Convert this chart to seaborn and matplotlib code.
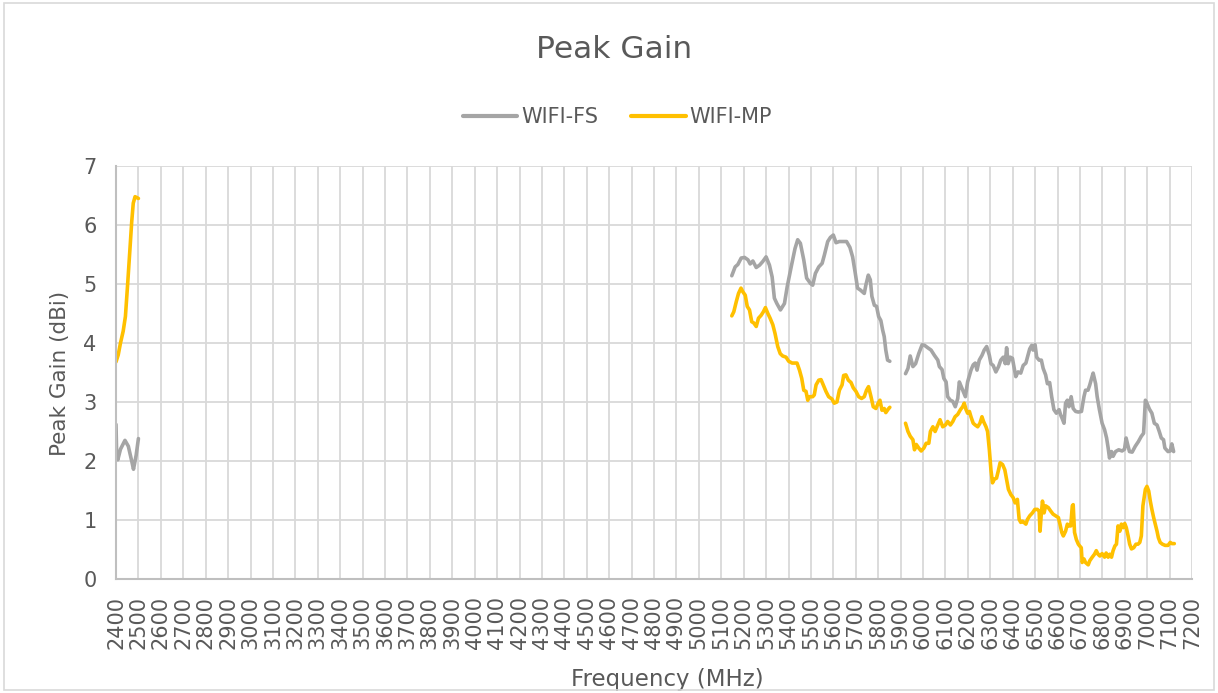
import numpy as np
import pandas as pd
import matplotlib
matplotlib.use("Agg")
import matplotlib.pyplot as plt
import seaborn as sns
from matplotlib.patches import Rectangle

# WIFI-FS (gris) - tres bandas
fs_freq_24 = [2400, 2403, 2408, 2420, 2440, 2455, 2470, 2478, 2490, 2500]
fs_gain_24 = [2.62, 2.10, 2.02, 2.20, 2.35, 2.25, 2.00, 1.86, 2.10, 2.38]

fs_freq_5 = [5147, 5162, 5174, 5189, 5204, 5219, 5229, 5241, 5256, 5271, 5285, 5300, 5315, 5327,
             5337, 5348, 5364, 5382, 5394, 5412, 5429, 5441, 5453, 5468, 5481, 5498, 5508, 5520,
             5535, 5550, 5560, 5575, 5587, 5600, 5612, 5627, 5641, 5659, 5674, 5686, 5698, 5708,
             5720, 5738, 5745, 5756, 5765, 5772, 5783, 5793, 5802, 5812, 5820, 5827, 5834, 5842, 5852]
fs_gain_5 = [5.14, 5.29, 5.33, 5.44, 5.45, 5.41, 5.34, 5.39, 5.28, 5.32, 5.38, 5.46, 5.32, 5.12,
             4.76, 4.67, 4.56, 4.67, 4.95, 5.29, 5.60, 5.75, 5.69, 5.41, 5.10, 5.01, 4.98, 5.18,
             5.29, 5.35, 5.49, 5.72, 5.79, 5.83, 5.70, 5.72, 5.72, 5.72, 5.62, 5.46, 5.18, 4.93,
             4.90, 4.84, 4.98, 5.15, 5.07, 4.79, 4.64, 4.62, 4.45, 4.38, 4.22, 4.11, 3.88, 3.71, 3.69]

fs_freq_6 = [5922, 5933, 5943, 5955, 5967, 5981, 5996, 6007, 6021, 6036, 6051, 6066, 6073, 6085,
             6093, 6103, 6110, 6122, 6133, 6144, 6155, 6162, 6174, 6189, 6199, 6214, 6224, 6233,
             6241, 6251, 6263, 6273, 6284, 6296, 6303, 6313, 6325, 6337, 6347, 6358, 6367, 6373,
             6380, 6389, 6399, 6407, 6414, 6424, 6436, 6447, 6459, 6466, 6476, 6485, 6491, 6500,
             6507, 6518, 6528, 6536, 6547, 6555, 6565, 6574, 6584, 6595, 6607, 6614, 6621, 6629,
             6636, 6644, 6651, 6661, 6670, 6681, 6693, 6707, 6718, 6725, 6736, 6744, 6752, 6759,
             6770, 6777, 6787, 6799, 6810, 6819, 6826, 6832, 6841, 6848, 6859, 6873, 6888, 6899,
             6906, 6913, 6921, 6933, 6947, 6961, 6974, 6984, 6992, 6999, 7010, 7021, 7032, 7044,
             7054, 7063, 7073, 7079, 7093, 7103, 7110, 7118]
fs_gain_6 = [3.48, 3.57, 3.78, 3.60, 3.65, 3.82, 3.97, 3.96, 3.92, 3.88, 3.79, 3.71, 3.60, 3.55,
             3.40, 3.34, 3.09, 3.03, 3.01, 2.92, 3.06, 3.34, 3.23, 3.09, 3.34, 3.54, 3.63, 3.66,
             3.54, 3.71, 3.79, 3.88, 3.94, 3.79, 3.65, 3.62, 3.51, 3.60, 3.71, 3.76, 3.65, 3.92,
             3.65, 3.76, 3.74, 3.57, 3.43, 3.51, 3.49, 3.62, 3.66, 3.76, 3.90, 3.96, 3.88, 3.97,
             3.76, 3.71, 3.71, 3.57, 3.46, 3.31, 3.33, 3.09, 2.87, 2.81, 2.87, 2.78, 2.72, 2.64,
             2.98, 3.03, 2.92, 3.09, 2.89, 2.84, 2.83, 2.84, 3.09, 3.20, 3.20, 3.29, 3.40, 3.49,
             3.31, 3.09, 2.87, 2.64, 2.53, 2.39, 2.22, 2.05, 2.16, 2.08, 2.16, 2.19, 2.17, 2.20,
             2.39, 2.28, 2.16, 2.15, 2.25, 2.33, 2.42, 2.47, 3.03, 2.98, 2.88, 2.81, 2.64, 2.61,
             2.50, 2.39, 2.36, 2.22, 2.16, 2.17, 2.29, 2.16]

# WIFI-MP (amarillo)
mp_freq_24 = [2400, 2410, 2420, 2432, 2442, 2452, 2462, 2470, 2477, 2485, 2500]
mp_gain_24 = [3.68, 3.80, 4.00, 4.20, 4.45, 5.00, 5.58, 6.05, 6.37, 6.48, 6.45]

mp_freq_5 = [5147, 5156, 5167, 5177, 5188, 5196, 5207, 5216, 5226, 5236, 5245, 5256, 5266, 5278,
             5288, 5297, 5308, 5318, 5330, 5340, 5352, 5363, 5374, 5389, 5401, 5416, 5426, 5438,
             5449, 5459, 5468, 5478, 5486, 5493, 5508, 5515, 5523, 5535, 5545, 5555, 5567, 5579,
             5594, 5604, 5616, 5627, 5639, 5646, 5656, 5667, 5679, 5689, 5701, 5713, 5726, 5738,
             5748, 5757, 5768, 5778, 5790, 5800, 5808, 5817, 5827, 5834, 5845, 5852]
mp_gain_5 = [4.46, 4.53, 4.70, 4.84, 4.93, 4.87, 4.81, 4.62, 4.56, 4.36, 4.34, 4.28, 4.42, 4.47,
             4.53, 4.60, 4.50, 4.42, 4.31, 4.16, 3.94, 3.82, 3.78, 3.76, 3.69, 3.66, 3.66, 3.66,
             3.54, 3.40, 3.20, 3.18, 3.03, 3.09, 3.09, 3.12, 3.29, 3.37, 3.38, 3.29, 3.18, 3.09,
             3.05, 2.98, 3.00, 3.20, 3.29, 3.45, 3.46, 3.37, 3.33, 3.24, 3.18, 3.09, 3.06, 3.09,
             3.20, 3.26, 3.09, 2.92, 2.89, 2.98, 3.03, 2.86, 2.89, 2.82, 2.88, 2.91]

mp_freq_6 = [5922, 5933, 5943, 5955, 5962, 5970, 5981, 5992, 6004, 6014, 6026, 6033, 6044, 6054,
             6066, 6076, 6088, 6100, 6110, 6122, 6133, 6143, 6155, 6167, 6177, 6184, 6192, 6199,
             6207, 6214, 6224, 6233, 6244, 6254, 6263, 6270, 6281, 6288, 6296, 6303, 6310, 6318,
             6328, 6337, 6344, 6355, 6365, 6373, 6381, 6392, 6402, 6411, 6421, 6429, 6436, 6444,
             6450, 6459, 6466, 6476, 6488, 6499, 6510, 6518, 6522, 6528, 6533, 6540, 6547, 6559,
             6570, 6580, 6592, 6604, 6611, 6619, 6626, 6636, 6644, 6651, 6659, 6666, 6670, 6676,
             6684, 6693, 6699, 6706, 6710, 6718, 6725, 6737, 6744, 6755, 6765, 6773, 6781, 6789,
             6799, 6810, 6817, 6826, 6833, 6841, 6848, 6856, 6863, 6870, 6878, 6885, 6893, 6900,
             6907, 6915, 6922, 6930, 6940, 6950, 6959, 6967, 6974, 6981, 6992, 6999, 7007, 7014,
             7021, 7029, 7036, 7044, 7050, 7058, 7068, 7080, 7093, 7103, 7110, 7121]
mp_gain_6 = [2.64, 2.50, 2.42, 2.36, 2.19, 2.28, 2.22, 2.17, 2.22, 2.30, 2.30, 2.50, 2.58, 2.50,
             2.61, 2.70, 2.58, 2.61, 2.67, 2.61, 2.67, 2.75, 2.79, 2.87, 2.92, 2.98, 2.87, 2.81,
             2.84, 2.75, 2.64, 2.61, 2.58, 2.64, 2.75, 2.67, 2.58, 2.50, 2.19, 1.85, 1.63, 1.69,
             1.71, 1.85, 1.97, 1.94, 1.85, 1.69, 1.52, 1.43, 1.38, 1.29, 1.35, 1.01, 0.96, 0.98,
             0.96, 0.93, 1.01, 1.07, 1.12, 1.18, 1.18, 1.15, 0.81, 1.12, 1.32, 1.12, 1.24, 1.21,
             1.15, 1.10, 1.07, 1.04, 0.93, 0.79, 0.73, 0.81, 0.93, 0.90, 0.90, 1.24, 1.26, 0.79,
             0.67, 0.59, 0.56, 0.53, 0.28, 0.34, 0.28, 0.24, 0.31, 0.37, 0.42, 0.48, 0.42, 0.39,
             0.43, 0.37, 0.44, 0.37, 0.42, 0.37, 0.48, 0.56, 0.59, 0.90, 0.81, 0.93, 0.87, 0.94,
             0.87, 0.73, 0.59, 0.51, 0.53, 0.59, 0.59, 0.62, 0.73, 1.24, 1.52, 1.57, 1.49, 1.32,
             1.18, 1.04, 0.93, 0.81, 0.70, 0.62, 0.59, 0.57, 0.57, 0.62, 0.60, 0.60]

x_ticks = list(range(2400, 7201, 100))
y_ticks = list(range(0, 8))

# armar tabla larga
filas = []
for serie, seg, fr, gn in [
    ("WIFI-FS", "2.4G", fs_freq_24, fs_gain_24),
    ("WIFI-FS", "5G", fs_freq_5, fs_gain_5),
    ("WIFI-FS", "6G", fs_freq_6, fs_gain_6),
    ("WIFI-MP", "2.4G", mp_freq_24, mp_gain_24),
    ("WIFI-MP", "5G", mp_freq_5, mp_gain_5),
    ("WIFI-MP", "6G", mp_freq_6, mp_gain_6),
]:
    for f, g in zip(fr, gn):
        filas.append({"freq": f, "gain": g, "serie": serie, "seg": seg})
df = pd.DataFrame(filas)

sns.set_style("white")
plt.rcParams['font.family'] = ['DejaVu Sans']
txt = "#595959"
colores = {"WIFI-FS": "#A5A5A5", "WIFI-MP": "#FFC000"}

fig = plt.figure(figsize=(12.18, 6.93), dpi=100)
ax = fig.add_axes([116 / 1218, 1 - 579 / 693, (1192 - 116) / 1218, (579 - 166) / 693])

sns.lineplot(data=df, x="freq", y="gain", hue="serie", units="seg", estimator=None,
             palette=colores, linewidth=2.6, sort=False, ax=ax)

ax.set_xlim(2400, 7200)
ax.set_ylim(0, 7)
ax.set_xticks(x_ticks)
ax.set_xticklabels([str(v) for v in x_ticks], rotation=90, fontsize=15, color=txt)
ax.set_yticks(y_ticks)
ax.set_yticklabels([str(v) for v in y_ticks], fontsize=15, color=txt)
ax.tick_params(axis="x", length=0, pad=12)
ax.tick_params(axis="y", length=0, pad=14)
ax.grid(True, color="#D9D9D9", linewidth=1.3)
ax.set_axisbelow(True)
for s in ["top", "right"]:
    ax.spines[s].set_visible(False)
for s in ["left", "bottom"]:
    ax.spines[s].set_color("#BFBFBF")
    ax.spines[s].set_linewidth(1.5)

ax.set_xlabel("Frequency (MHz)", fontsize=16.5, color=txt)
ax.xaxis.set_label_coords(0.512, -0.215)
ax.set_ylabel("Peak Gain (dBi)", fontsize=15.5, color=txt)
ax.yaxis.label.set_va("center")
ax.yaxis.set_label_coords(-0.052, 0.497)
fig.text(0.504, 1 - 50 / 693, "Peak Gain", ha="center", va="center", fontsize=22.5, color=txt)

handles, labels = ax.get_legend_handles_labels()
ax.legend(handles, labels, loc="center", bbox_to_anchor=(0.507, 1 - 117 / 693),
          bbox_transform=fig.transFigure, ncol=2, frameon=False, fontsize=15,
          labelcolor=txt, handlelength=2.6, handletextpad=0.2, columnspacing=1.6)
for ln in ax.get_legend().get_lines():
    ln.set_linewidth(3)

fig.patches.append(Rectangle((0.003, 0.004), 0.994, 0.992, transform=fig.transFigure,
                             fill=False, edgecolor="#D9D9D9", linewidth=1.2))

fig.savefig("out.png", dpi=100, facecolor="white")
